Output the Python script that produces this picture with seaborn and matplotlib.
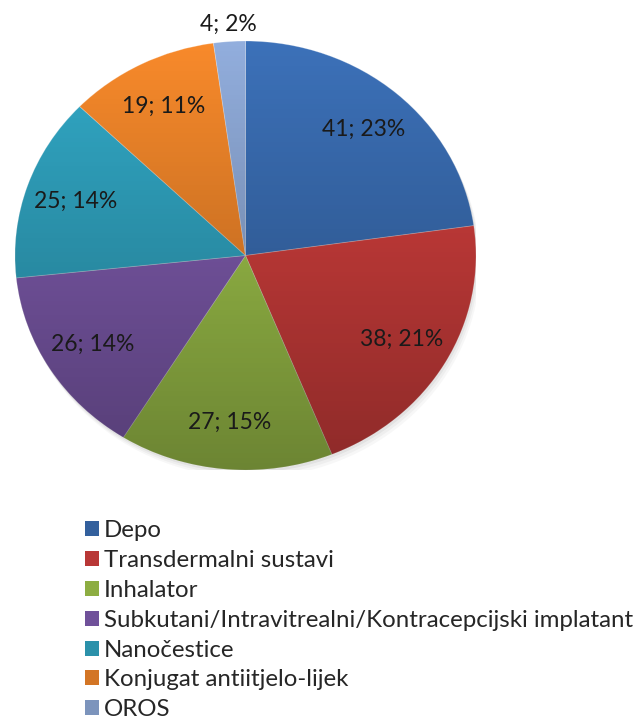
import numpy as np
import matplotlib.pyplot as plt
import seaborn as sns
from matplotlib.patches import Patch, Circle

sns.set_theme(style='white')
plt.rcParams['font.family'] = ['Lato', 'DejaVu Sans']

categories = ['Depo', 'Transdermalni sustavi', 'Inhalator',
              'Subkutani/Intravitrealni/Kontracepcijski implatant',
              'Nanočestice', 'Konjugat antiitjelo-lijek', 'OROS']
counts = [41, 38, 27, 26, 25, 19, 4]
colors = ['#3C71B9', '#D9413F', '#A6CC4E', '#845FB5', '#32AAC8', '#F88A2B', '#92AEDD']

fig = plt.figure(figsize=(6.34, 7.25), dpi=100)
ax = fig.add_axes([15 / 634, (725 - 470) / 725, 461 / 634, 429 / 725])

# soft drop shadow behind the pie
for k, a in enumerate([0.10, 0.08, 0.06]):
    ax.add_patch(Circle((0.006 * (k + 1), -0.012 * (k + 1)), 1.0, facecolor='0.5', alpha=a, lw=0, zorder=0))

wedges, _ = ax.pie(counts, colors=colors, startangle=90, counterclock=False, radius=1,
                   wedgeprops=dict(linewidth=0.6, edgecolor=(1, 1, 1, 0.3)))
for w in wedges:
    w.set_zorder(1)
ax.set_aspect('auto')
ax.set_xlim(-1, 1)
ax.set_ylim(-1, 1)

# vertical shading: darker towards the bottom of the pie
t = np.linspace(0, 1, 256)
shade = np.zeros((256, 1, 4))
shade[:, 0, 3] = 0.35 * t
img = ax.imshow(shade, extent=(-1, 1, -1, 1), aspect='auto', origin='upper', zorder=2)
img.set_clip_path(Circle((0, 0), 1.0, transform=ax.transData))

total = sum(counts)
for w, n in zip(wedges, counts):
    ang = np.deg2rad((w.theta1 + w.theta2) / 2)
    share = n / total
    r = 1.08 if share < 0.05 else 0.78
    ax.text(r * np.cos(ang), r * np.sin(ang), f'{n}; {share * 100:.0f}%',
            ha='center', va='center', fontsize=16.5, color='#1a1a1a', zorder=3, clip_on=False)

# legend swatches use the mid tone of each slice
handles = [Patch(facecolor=tuple(0.85 * np.array(plt.matplotlib.colors.to_rgb(c))), edgecolor='none')
           for c in colors]
fig.legend(handles, categories, loc='upper left', bbox_to_anchor=(85 / 634, 1 - 520 / 725),
           frameon=False, fontsize=17.3, handlelength=0.58, handleheight=0.58,
           handletextpad=0.2, labelspacing=0.37, borderpad=0, borderaxespad=0)

fig.savefig('out.png', dpi=100, facecolor='white')
